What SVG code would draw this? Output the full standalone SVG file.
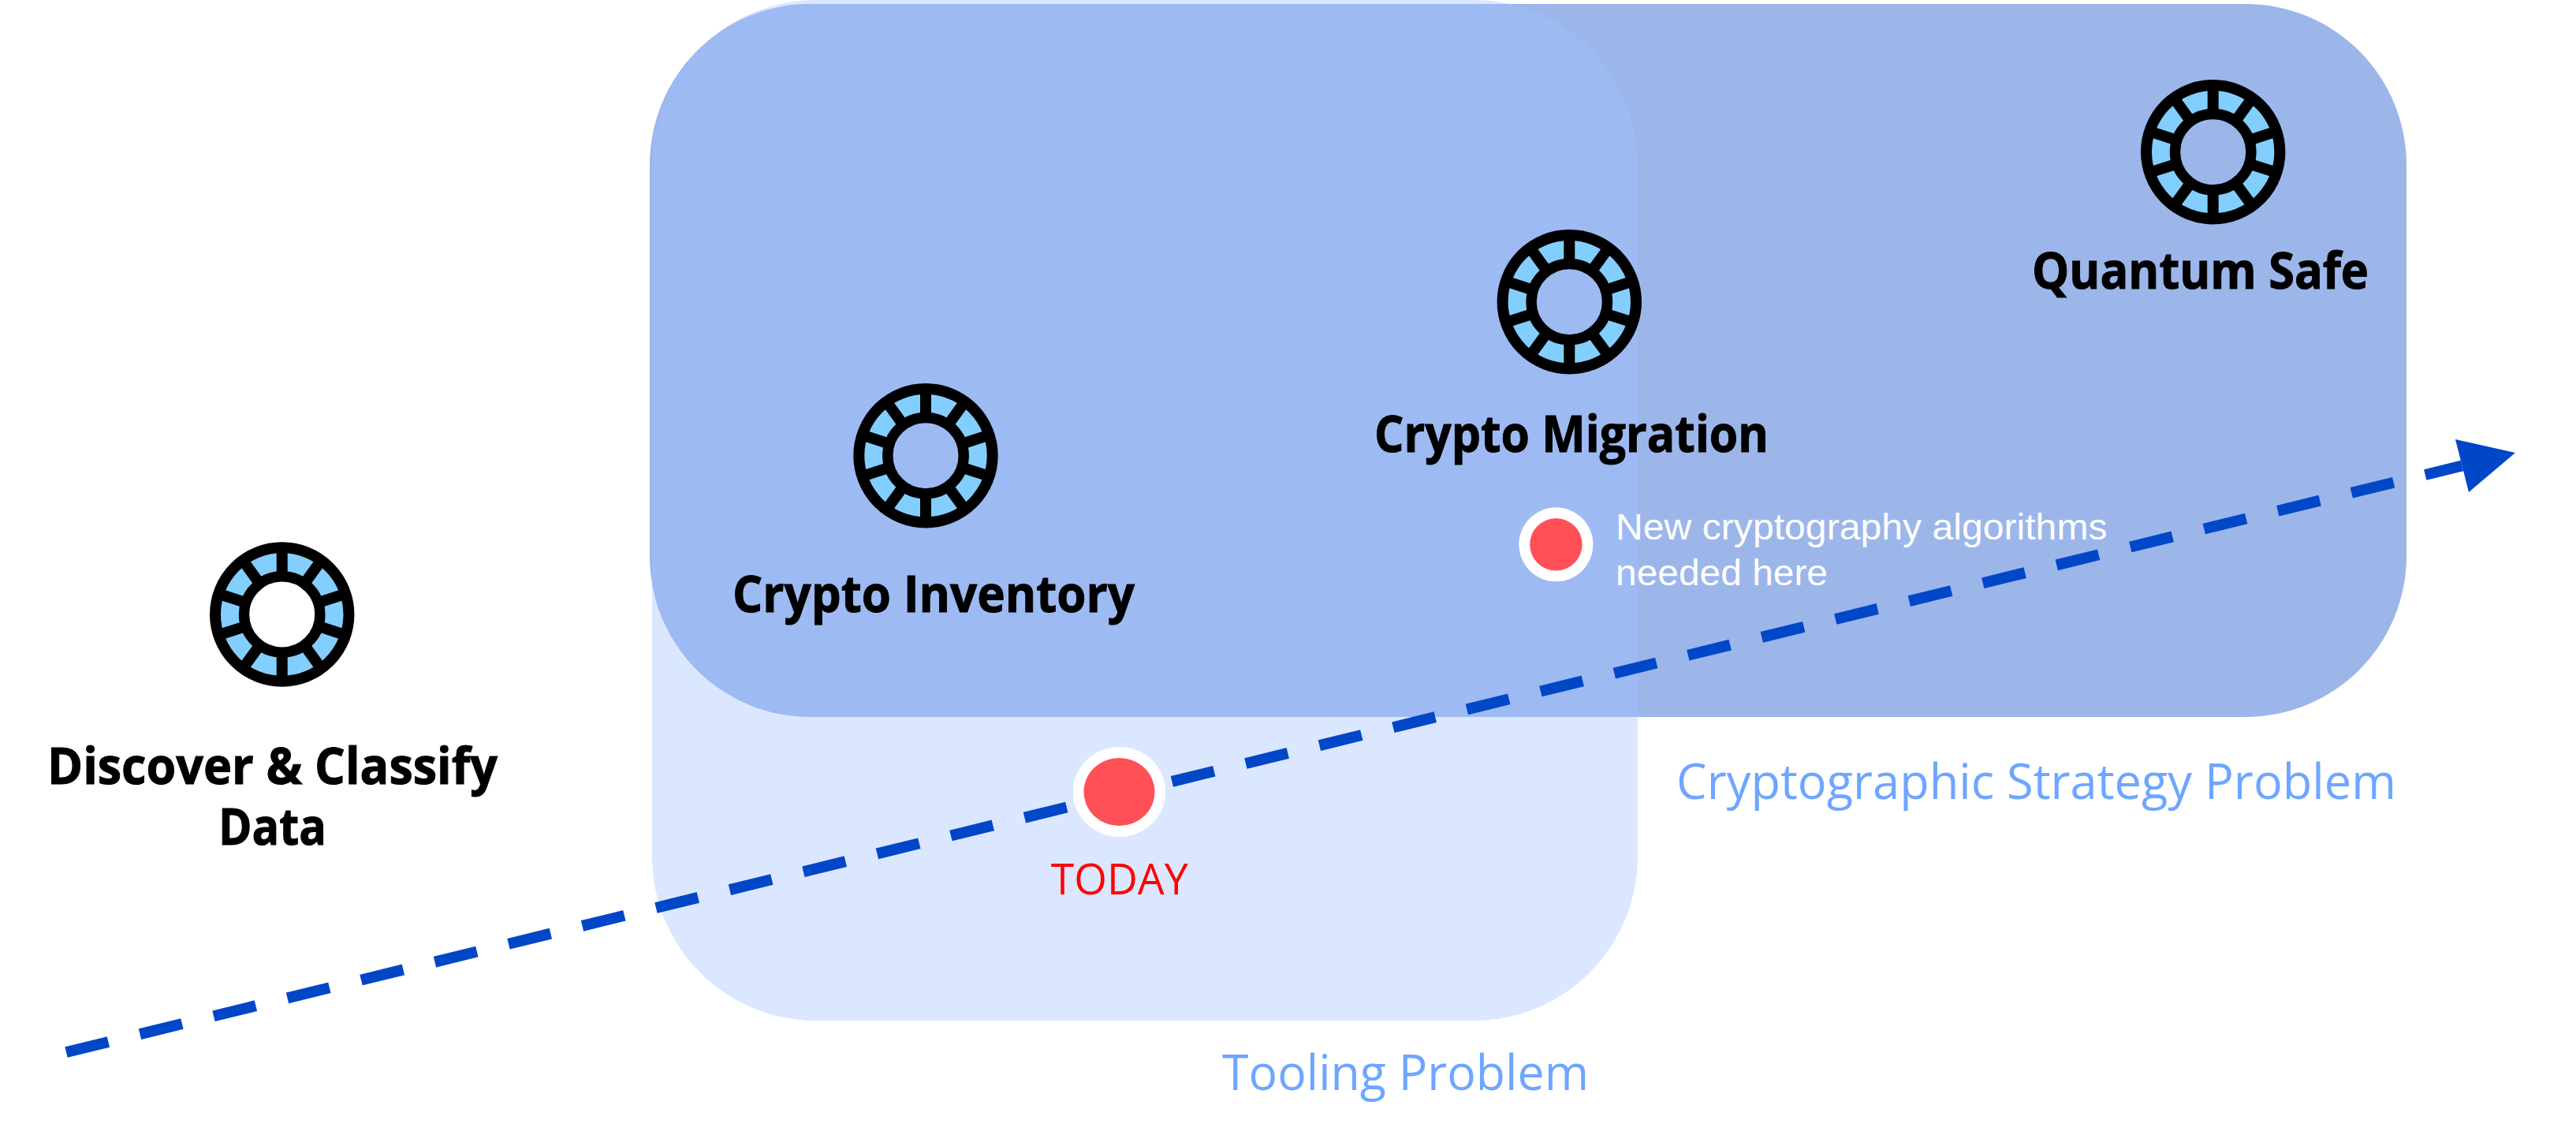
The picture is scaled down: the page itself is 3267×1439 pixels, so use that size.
<svg xmlns="http://www.w3.org/2000/svg" xmlns:xlink="http://www.w3.org/1999/xlink" width="3267" height="1439" viewBox="0 0 3267 1439">
  <style>
    .label { font-family: "Open Sans", "Liberation Sans", sans-serif; font-weight: 700; font-size: 64px; fill: #000; stroke: #000; stroke-width: 1; }
    .problem { font-family: "Open Sans", "Liberation Sans", sans-serif; font-weight: 400; font-size: 63px; fill: #6EA6FF; }
    .today { font-family: "Open Sans", "Liberation Sans", sans-serif; font-weight: 400; font-size: 54px; fill: #FF0000; }
    .note { font-family: "Liberation Sans", Arial, sans-serif; font-size: 47px; fill: #FFFFFF; }
    .spoke { stroke: #000; stroke-width: 14; }
    .flow { fill: none; stroke: #0047C8; stroke-width: 14; stroke-dasharray: 55 41.25; }
    .head { fill: #0047C8; }
    .halo { fill: #FFFFFF; }
    .dot { fill: #FF5058; }
  </style>
  <defs>
    <clipPath id="lightClip"><rect x="827" y="0" width="1250" height="1294" rx="208" ry="208"/></clipPath>
    <g id="wheel">
      <circle r="66.3" fill="none" stroke="#82CFFF" stroke-width="22.8"/>
      <circle r="84.7" fill="none" stroke="#000" stroke-width="14"/>
      <circle r="48.2" fill="none" stroke="#000" stroke-width="13.4"/>
      <g class="spoke">
        <line y1="-85" y2="-48"/>
        <line y1="-85" y2="-48" transform="rotate(36)"/>
        <line y1="-85" y2="-48" transform="rotate(72)"/>
        <line y1="-85" y2="-48" transform="rotate(108)"/>
        <line y1="-85" y2="-48" transform="rotate(144)"/>
        <line y1="-85" y2="-48" transform="rotate(180)"/>
        <line y1="-85" y2="-48" transform="rotate(216)"/>
        <line y1="-85" y2="-48" transform="rotate(252)"/>
        <line y1="-85" y2="-48" transform="rotate(288)"/>
        <line y1="-85" y2="-48" transform="rotate(324)"/>
      </g>
    </g>
  </defs>

  <g id="regions">
    <g id="tooling-region">
      <rect x="827" y="0" width="1250" height="1294" rx="208" ry="208" fill="#DBE7FF"/>
      <text class="problem" x="1550" y="1382" textLength="465" lengthAdjust="spacingAndGlyphs">Tooling Problem</text>
    </g>
    <g id="strategy-region">
      <rect x="824" y="5" width="2228" height="904" rx="204" ry="204" fill="#9CB6EA"/>
      <rect x="824" y="5" width="2228" height="904" rx="204" ry="204" fill="#9EBAF2" clip-path="url(#lightClip)"/>
      <text class="problem" x="2126" y="1013" textLength="913" lengthAdjust="spacingAndGlyphs">Cryptographic Strategy Problem</text>
    </g>
  </g>

  <g id="connectors">
    <line class="flow" x1="84" y1="1334" x2="3122.5" y2="590.5"/>
    <polygon class="head" points="3190,574 3114,557 3131,624"/>
  </g>

  <g id="discover">
    <use href="#wheel" xlink:href="#wheel" x="357.7" y="779"/>
    <text class="label" x="60" y="994" textLength="571" lengthAdjust="spacingAndGlyphs">Discover &amp; Classify</text>
    <text class="label" x="277" y="1070.7" textLength="137" lengthAdjust="spacingAndGlyphs">Data</text>
  </g>
  <g id="crypto-inventory">
    <use href="#wheel" xlink:href="#wheel" x="1174" y="577.7"/>
    <text class="label" x="929" y="776" textLength="510" lengthAdjust="spacingAndGlyphs">Crypto Inventory</text>
  </g>
  <g id="crypto-migration">
    <use href="#wheel" xlink:href="#wheel" x="1990.3" y="382.7"/>
    <text class="label" x="1743" y="572.7" textLength="500" lengthAdjust="spacingAndGlyphs">Crypto Migration</text>
  </g>
  <g id="quantum-safe">
    <use href="#wheel" xlink:href="#wheel" x="2806.7" y="192.7"/>
    <text class="label" x="2577" y="366" textLength="427" lengthAdjust="spacingAndGlyphs">Quantum Safe</text>
  </g>
  <g id="today">
    <ellipse class="halo" cx="1419.5" cy="1004" rx="58.7" ry="57"/>
    <ellipse class="dot" cx="1419.5" cy="1004" rx="45" ry="43"/>
    <text class="today" x="1332.7" y="1134" textLength="174" lengthAdjust="spacingAndGlyphs">TODAY</text>
  </g>
  <g id="new-algorithms">
    <circle class="halo" cx="1973.4" cy="690.3" r="47"/>
    <circle class="dot" cx="1973.4" cy="690.3" r="33.2"/>
    <text class="note" x="2049" y="684.3" textLength="623.6" lengthAdjust="spacingAndGlyphs">New cryptography algorithms</text>
    <text class="note" x="2049" y="741.7" textLength="269" lengthAdjust="spacingAndGlyphs">needed here</text>
  </g>
</svg>
